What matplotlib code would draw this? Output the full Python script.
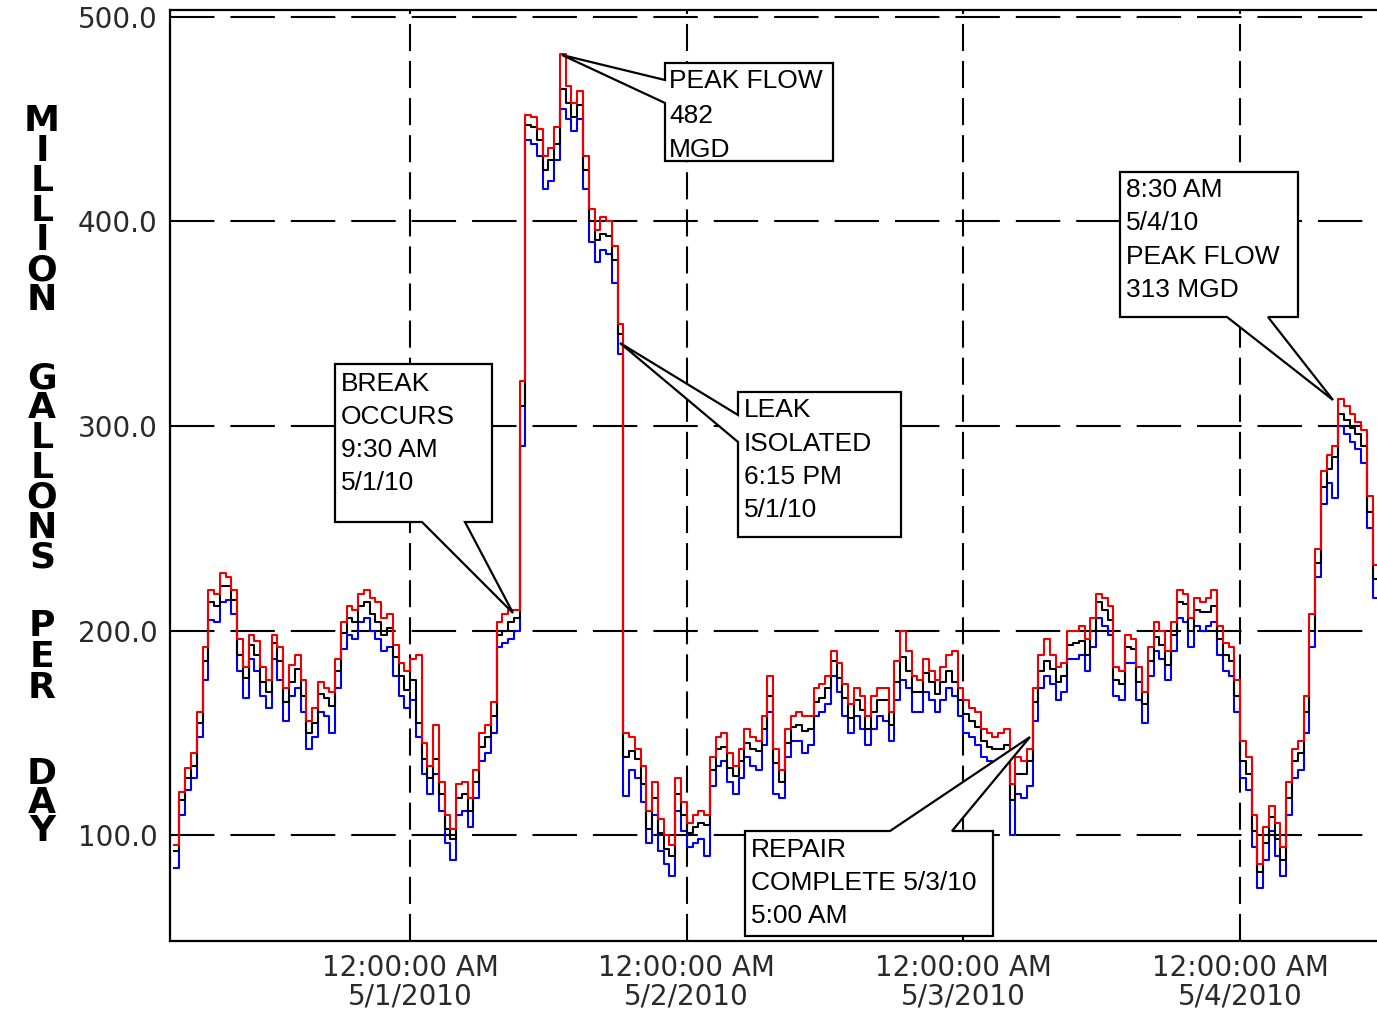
import numpy as np
import matplotlib
matplotlib.use("Agg")
import matplotlib.pyplot as plt
from matplotlib.patches import Polygon

plt.rcParams["lines.scale_dashes"] = False

# ---------------- data (30-minute readings, hours relative to 12:00 AM 5/1/2010) ----------------
start_hour = -20.5
step_hours = 0.5

black_mgd = [
    92, 117, 128, 134, 155, 185, 214, 212, 222, 222,
    215, 188, 177, 193, 188, 175, 170, 194, 185, 165,
    175, 181, 168, 150, 155, 169, 167, 163, 180, 199,
    206, 204, 212, 214, 208, 204, 198, 201, 187, 178,
    171, 176, 155, 137, 128, 137, 120, 103, 98, 118,
    120, 112, 126, 143, 148, 158, 198, 200, 204, 206,
    310, 447, 446, 440, 425, 430, 438, 465, 458, 451,
    457, 425, 400, 391, 394, 393, 381, 345, 138, 141,
    137, 125, 103, 118, 101, 93, 90, 120, 110, 101,
    104, 106, 105, 132, 142, 143, 133, 129, 136, 145,
    142, 141, 152, 168, 135, 126, 145, 153, 154, 151,
    152, 165, 167, 172, 185, 177, 167, 157, 166, 161,
    152, 160, 166, 166, 154, 175, 187, 180, 170, 170,
    179, 175, 169, 175, 180, 175, 166, 159, 156, 153,
    146, 143, 142, 142, 144, 117, 130, 130, 136, 165,
    180, 185, 181, 175, 178, 193, 194, 195, 188, 200,
    214, 210, 205, 176, 174, 192, 191, 175, 164, 185,
    197, 193, 183, 198, 214, 213, 200, 210, 209, 209,
    212, 196, 188, 185, 168, 136, 130, 102, 82, 96,
    109, 98, 88, 118, 136, 140, 160, 200, 233, 270,
    279, 285, 306, 303, 299, 296, 290, 258, 225, 212,
]

red_mgd = [
    95, 121, 133, 140, 160, 192, 220, 218, 228, 226,
    220, 196, 182, 198, 195, 182, 176, 198, 192, 172,
    183, 188, 176, 156, 162, 175, 172, 170, 186, 204,
    212, 210, 218, 220, 216, 214, 206, 208, 193, 184,
    180, 186, 188, 145, 134, 154, 126, 110, 103, 125,
    126, 118, 132, 150, 154, 165, 204, 208, 210, 210,
    322, 452, 451, 445, 432, 436, 446, 482, 466, 458,
    464, 432, 406, 396, 402, 400, 388, 350, 150, 148,
    142, 134, 112, 126, 108, 100, 95, 128, 116, 106,
    110, 112, 110, 138, 148, 150, 140, 134, 142, 152,
    148, 146, 158, 178, 142, 132, 152, 158, 160, 158,
    158, 172, 174, 178, 190, 184, 174, 164, 172, 168,
    158, 168, 172, 172, 160, 185, 200, 190, 178, 176,
    186, 180, 176, 182, 188, 190, 172, 166, 162, 160,
    152, 150, 148, 150, 152, 125, 138, 136, 142, 172,
    188, 196, 188, 182, 184, 200, 200, 202, 196, 206,
    218, 216, 212, 182, 180, 198, 196, 182, 170, 192,
    204, 200, 190, 204, 220, 218, 206, 216, 214, 216,
    220, 202, 194, 192, 176, 146, 138, 110, 86, 104,
    114, 106, 94, 126, 142, 146, 168, 208, 240, 278,
    286, 290, 313, 310, 306, 302, 298, 266, 232, 220,
]

blue_mgd = [
    84, 110, 122, 128, 148, 176, 205, 204, 214, 215,
    208, 180, 167, 186, 180, 168, 162, 186, 176, 156,
    168, 172, 160, 142, 148, 160, 158, 150, 172, 191,
    198, 196, 204, 206, 200, 196, 190, 192, 178, 168,
    162, 166, 148, 130, 120, 130, 112, 96, 88, 110,
    112, 104, 118, 136, 140, 150, 192, 194, 196, 200,
    290, 440, 438, 432, 416, 420, 430, 455, 450, 444,
    450, 416, 390, 380, 386, 384, 370, 335, 119, 132,
    128, 116, 96, 110, 92, 86, 80, 112, 102, 94,
    96, 98, 90, 124, 134, 136, 126, 120, 128, 138,
    134, 132, 144, 160, 120, 118, 138, 146, 146, 140,
    144, 158, 160, 164, 178, 170, 158, 150, 158, 152,
    144, 152, 158, 156, 146, 166, 176, 172, 160, 160,
    170, 166, 160, 166, 172, 168, 158, 150, 148, 144,
    138, 136, 134, 136, 138, 100, 120, 118, 124, 156,
    172, 178, 174, 166, 170, 186, 186, 188, 180, 192,
    206, 202, 198, 168, 166, 184, 184, 166, 155, 178,
    190, 186, 176, 190, 206, 204, 192, 202, 200, 202,
    204, 188, 180, 178, 160, 128, 122, 94, 74, 88,
    102, 90, 80, 110, 128, 132, 150, 192, 226, 262,
    272, 265, 300, 296, 292, 289, 282, 250, 216, 205,
]

y_ticks = [100, 200, 300, 400, 500]
x_tick_hours = [0, 24, 48, 72]
x_tick_labels = ["12:00:00 AM\n5/1/2010", "12:00:00 AM\n5/2/2010",
                 "12:00:00 AM\n5/3/2010", "12:00:00 AM\n5/4/2010"]
y_title_words = ["MILLION", "GALLONS", "PER", "DAY"]

hours = start_hour + step_hours * np.arange(len(black_mgd))

# ---------------- figure ----------------
W, H = 1377, 1011
fig = plt.figure(figsize=(W / 100, H / 100), dpi=100)
fig.patch.set_facecolor("white")
ax = fig.add_axes([170 / W, 1 - 941 / H, (W - 170) / W, (941 - 10) / H])
ax.set_xlim(-20.82, 83.87)
ax.set_ylim(48.2, 503.4)


def fx(px):
    return px / W


def fy(py):
    return 1 - py / H


# grid (dashed)
for yv in y_ticks:
    ax.axhline(yv, color="black", lw=1.5, dashes=(32, 11.5), zorder=1)
for xv in x_tick_hours:
    ax.axvline(xv, color="black", lw=1.5, dashes=(19.5, 7.2), zorder=1)

# series
ax.step(hours, blue_mgd, where="post", color="#0000ee", lw=1.5, zorder=2)
ax.step(hours, black_mgd, where="post", color="black", lw=1.5, zorder=3)
ax.step(hours, red_mgd, where="post", color="#ee0000", lw=1.5, zorder=4)

# axes styling
for side in ["left", "bottom", "top"]:
    ax.spines[side].set_linewidth(1.6)
ax.spines["right"].set_visible(False)

ax.set_yticks(y_ticks)
ax.set_yticklabels([f"{v:.1f}" for v in y_ticks])
ax.set_xticks(x_tick_hours)
ax.set_xticklabels(x_tick_labels, linespacing=1.05)
ax.tick_params(direction="in", length=7, width=1.3, labelsize=20,
               labelcolor="#2a2a2a", pad=9)
for lab in ax.get_xticklabels() + ax.get_yticklabels():
    lab.set_fontfamily("DejaVu Sans")

# stacked y-axis title: each word is one text, letters stacked upright
title_fs = 26                       # points
line_unit_px = 33.8                 # baseline step per unit of linespacing at this size
word_layout = [(104, 28.6), (361, 28.7), (609, 30.0), (757, 27.0)]  # (top px, letter pitch px)
for word, (top, pitch) in zip(y_title_words, word_layout):
    fig.text(fx(42), fy(top), "\n".join(word), ha="center", va="top",
             multialignment="center", linespacing=pitch / line_unit_px,
             fontsize=title_fs, fontweight="bold", family="DejaVu Sans",
             color="black")

# callouts: box + pointer outline in reference pixel space
callouts = [
    dict(poly=[(335, 364), (492, 364), (492, 522), (465, 522), (513, 613),
               (422, 522), (335, 522)],
         lines=["BREAK", "OCCURS", "9:30 AM", "5/1/10"], x=341,
         base=[391, 424, 457, 490]),
    dict(poly=[(665, 63), (833, 63), (833, 161), (665, 161), (665, 103),
               (562, 55), (665, 80)],
         lines=["PEAK FLOW", "482", "MGD"], x=669, base=[88, 123, 157]),
    dict(poly=[(738, 392), (901, 392), (901, 537), (738, 537), (738, 442),
               (620, 343), (738, 415)],
         lines=["LEAK", "ISOLATED", "6:15 PM", "5/1/10"], x=744,
         base=[417, 451, 484, 517]),
    dict(poly=[(1120, 172), (1298, 172), (1298, 317), (1268, 317), (1333, 400),
               (1227, 317), (1120, 317)],
         lines=["8:30 AM", "5/4/10", "PEAK FLOW", "313 MGD"], x=1126,
         base=[197, 230, 264, 297]),
    dict(poly=[(745, 831), (890, 831), (1030, 737), (952, 831), (993, 831),
               (993, 936), (745, 936)],
         lines=["REPAIR", "COMPLETE 5/3/10", "5:00 AM"], x=751,
         base=[857, 890, 923]),
]
for c in callouts:
    pts = [(fx(px), fy(py)) for px, py in c["poly"]]
    poly = Polygon(pts, closed=True, facecolor="white", edgecolor="black",
                   lw=1.6, joinstyle="miter", transform=fig.transFigure,
                   zorder=10, clip_on=False)
    ax.add_patch(poly)
    for txt, b in zip(c["lines"], c["base"]):
        ax.text(fx(c["x"]), fy(b), txt, transform=fig.transFigure,
                ha="left", va="baseline", fontsize=19,
                family="Liberation Sans", color="black", zorder=11)

fig.savefig("out.png", dpi=100, facecolor="white")
